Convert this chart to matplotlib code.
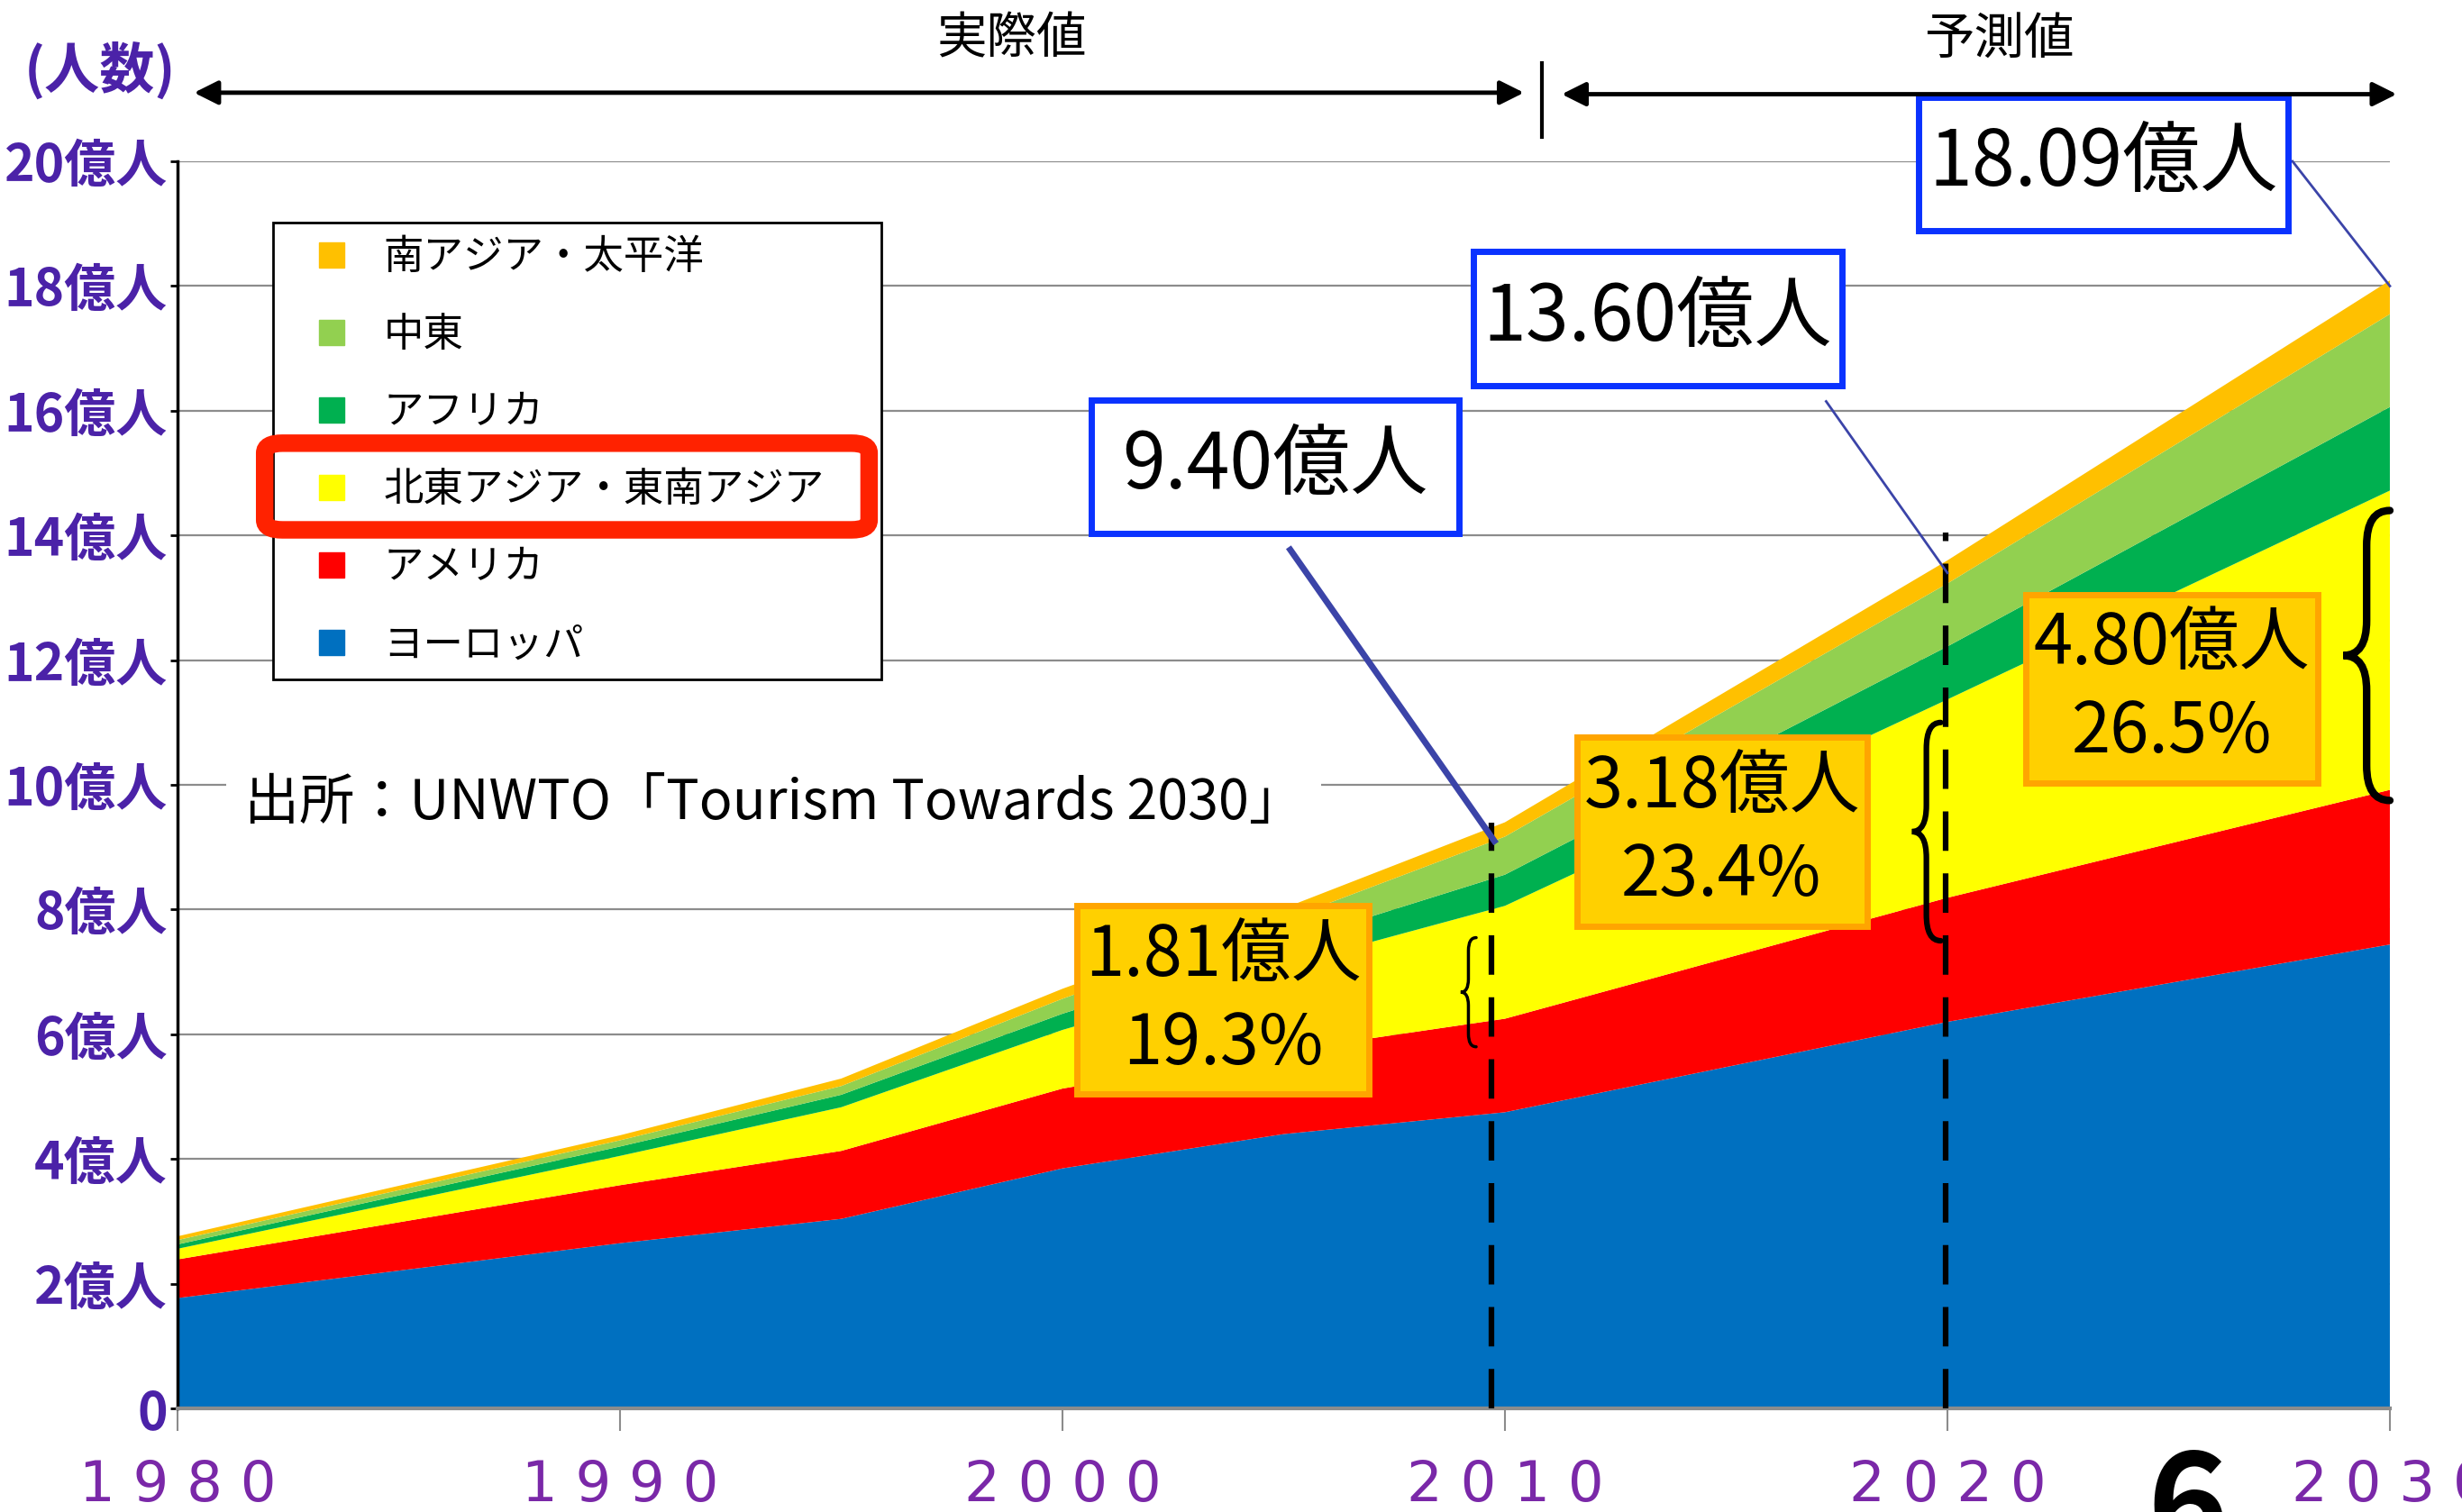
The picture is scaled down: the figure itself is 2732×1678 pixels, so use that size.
import matplotlib
matplotlib.use("Agg")
import matplotlib.pyplot as plt
import numpy as np
from matplotlib.lines import Line2D
from matplotlib.patches import Rectangle, FancyBboxPatch, FancyArrowPatch, PathPatch
from matplotlib.path import Path

plt.rcParams["font.family"] = ["Noto Sans CJK JP", "DejaVu Sans"]

# international tourist arrivals, 億人
years = [1980, 1990, 1995, 2000, 2005, 2010, 2020, 2030]
europe = [1.77, 2.65, 3.04, 3.85, 4.40, 4.75, 6.20, 7.44]
americas = [0.62, 0.93, 1.09, 1.28, 1.33, 1.50, 1.99, 2.48]
ne_se_asia = [0.17, 0.47, 0.70, 0.94, 1.37, 1.81, 3.18, 4.80]
africa = [0.07, 0.15, 0.20, 0.26, 0.35, 0.50, 0.85, 1.34]
middle_east = [0.07, 0.10, 0.14, 0.24, 0.38, 0.61, 1.01, 1.49]
s_asia_pacific = [0.06, 0.08, 0.12, 0.16, 0.19, 0.23, 0.37, 0.54]

regions = ["ヨーロッパ", "アメリカ", "北東アジア・東南アジア", "アフリカ", "中東", "南アジア・太平洋"]
colors = ["#0070C0", "#FF0000", "#FFFF00", "#00B050", "#92D050", "#FFC000"]

yticks = list(range(0, 21, 2))
ytick_labels = ["0"] + [f"{v}億人" for v in range(2, 21, 2)]
xticks = [1980, 1990, 2000, 2010, 2020, 2030]
xtick_labels = [" ".join(str(y)) for y in xticks]

callout_years = [2010, 2020, 2030]
source = "出所：UNWTO「Tourism Towards 2030」"

series = [europe, americas, ne_se_asia, africa, middle_east, s_asia_pacific]
totals = np.sum(np.array(series), axis=0)
idx = {y: i for i, y in enumerate(years)}

fig = plt.figure(figsize=(27.32, 16.78), dpi=100)
ax = fig.add_axes([0.0721, 0.0685, 0.8986, 0.8248])

ax.stackplot(years, *series, colors=colors, labels=regions, lw=0)
ax.set_xlim(1980, 2030)
ax.set_ylim(0, 20)
ax.set_axisbelow(True)
ax.yaxis.grid(True, color="#8c8c8c", lw=1.6)

for s in ["top", "right"]:
    ax.spines[s].set_visible(False)
ax.spines["left"].set_color("black")
ax.spines["left"].set_linewidth(2.5)
ax.spines["bottom"].set_color("#8c8c8c")
ax.spines["bottom"].set_linewidth(3)

ax.set_yticks(yticks, ytick_labels)
ax.set_xticks(xticks, xtick_labels)
ax.tick_params(axis="y", length=6, width=2, color="black", pad=2,
               labelsize=41, labelcolor="#4B22A8")
ax.tick_params(axis="x", length=18, width=1.5, color="#8c8c8c", pad=22,
               labelsize=45, labelcolor="#7A28A8")
for lab in ax.get_yticklabels():
    lab.set_fontweight("bold")
for lab in ax.get_xticklabels():
    lab.set_fontfamily("DejaVu Sans")

# legend
handles = [Line2D([], [], marker="s", ls="", markersize=20, color=c) for c in colors[::-1]]
leg = ax.legend(handles, regions[::-1], loc="upper left", mode="expand",
                bbox_to_anchor=(0.0433, 0.584, 0.2747, 0.367), borderaxespad=0,
                fontsize=32, frameon=True, fancybox=False, framealpha=1,
                edgecolor="black", borderpad=0.35, labelspacing=0.9,
                handlelength=2.2, handletextpad=0.2)
leg.get_frame().set_linewidth(2)
ax.add_patch(FancyBboxPatch((0.0394, 0.7045), 0.2732, 0.0695,
                            boxstyle="round,pad=0,rounding_size=0.008",
                            transform=ax.transAxes, fill=False, ec="#FF2200",
                            lw=14, zorder=10, clip_on=False))

# source
ax.text(1981.5, 9.7, source, fontsize=44, ha="left", va="center", zorder=3,
        bbox=dict(facecolor="white", edgecolor="none", pad=14))

# dashed markers
for yr, shift, extra in [(2010, -0.3, 0.0), (2020, -0.05, 0.45)]:
    ax.plot([yr + shift, yr + shift], [0, totals[idx[yr]] + extra], color="black", lw=4.5,
            ls=(0, (7, 4)), zorder=6)


def brace(x_tip, x_back, y0, y1, lw):
    xm = (x_tip + x_back) / 2
    ym = (y0 + y1) / 2
    d = (y1 - y0) * 0.12
    verts = [(x_back, y1), (xm, y1), (xm, y1 - d), (xm, ym + d),
             (xm, ym), (x_tip, ym), (xm, ym), (xm, ym - d),
             (xm, y0 + d), (xm, y0), (x_back, y0)]
    codes = [Path.MOVETO, Path.CURVE3, Path.CURVE3, Path.LINETO,
             Path.CURVE3, Path.CURVE3, Path.CURVE3, Path.CURVE3,
             Path.LINETO, Path.CURVE3, Path.CURVE3]
    ax.add_patch(PathPatch(Path(verts, codes), fill=False, lw=lw, ec="black",
                           zorder=7, clip_on=False, capstyle="round"))


brace(2009.0, 2009.35, 5.8, 7.55, 2.5)
brace(2019.2, 2019.85, 7.5, 11.0, 4.5)
brace(2028.95, 2030.0, 9.75, 14.4, 6)

# total callouts (blue) and NE/SE Asia callouts (orange)
blue_boxes = [(2000.65, 14.03, 8.31, 2.14), (2009.28, 16.40, 8.34, 2.16), (2019.35, 18.89, 8.34, 2.14)]
leaders = [((2005.15, 13.77), (2009.76, 9.1), 5), ((2017.26, 16.15), (2020, 13.4), 2),
           ((2027.8, 20.0), (2030, 18.0), 2)]
orange_boxes = [(2000.33, 5.04, 6.6, 3.02), (2011.62, 7.73, 6.56, 3.03), (2021.77, 10.03, 6.6, 3.02)]

for yr, (bx, by, bw, bh), (p0, p1, llw), (ox, oy, ow, oh) in zip(callout_years, blue_boxes, leaders, orange_boxes):
    i = idx[yr]
    tot = totals[i]
    ax.plot([p0[0], p1[0]], [p0[1], p1[1]], color="#3B44A8", lw=llw, zorder=8, clip_on=False)
    ax.add_patch(Rectangle((bx, by), bw, bh, fc="white", ec="#0A32FF", lw=5, zorder=9, clip_on=False))
    ax.text(bx + bw / 2, by + bh / 2, f"{tot:.2f}億人", fontsize=62, ha="center", va="center",
            zorder=10, clip_on=False)
    asia = ne_se_asia[i]
    ax.add_patch(Rectangle((ox, oy), ow, oh, fc="#FFD000", ec="#FFA500", lw=5, zorder=9))
    ax.text(ox + ow / 2, oy + oh / 2, f"{asia:.2f}億人\n{asia / tot * 100:.1f}%", fontsize=56,
            ha="center", va="center", linespacing=1.3, zorder=10)

# header: actual vs. forecast
fig.text(0.0408, 0.953, "(人数)", fontsize=44, fontweight="bold", color="#4B22A8", ha="center", va="center")
fig.text(0.4107, 0.974, "実際値", fontsize=40, ha="center", va="center")
fig.text(0.8119, 0.974, "予測値", fontsize=40, ha="center", va="center")
for xa, xb, yy in [(0.0778, 0.620, 0.9387), (0.6333, 0.9745, 0.9377)]:
    fig.add_artist(FancyArrowPatch((xa, yy), (xb, yy), transform=fig.transFigure,
                                   arrowstyle="<|-|>", mutation_scale=40, lw=3.5, color="black"))
fig.add_artist(Line2D([0.6263, 0.6263], [0.9097, 0.9585], transform=fig.transFigure, color="black", lw=3))

# page number peeking in at the bottom
fig.text(0.8884, -0.028, "6", fontsize=110, fontweight="bold", ha="center", va="baseline")

fig.savefig("out.png", dpi=100)
